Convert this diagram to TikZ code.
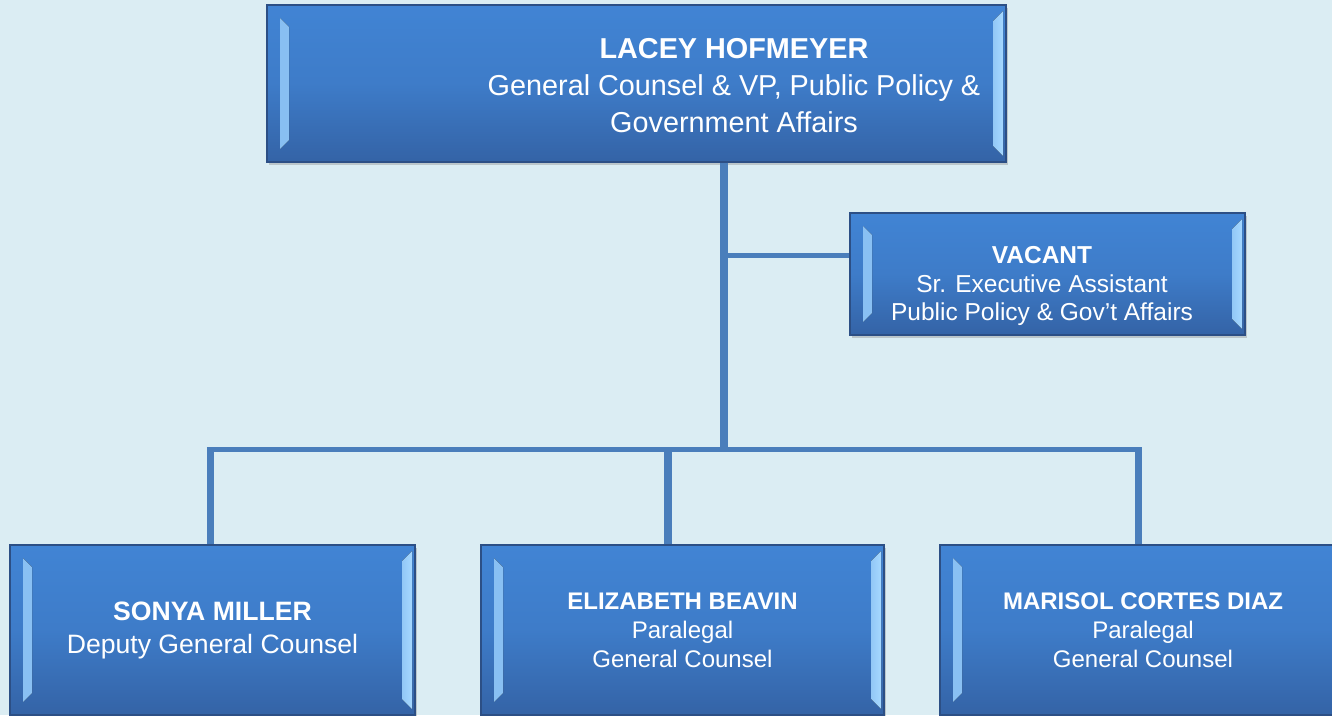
\documentclass[tikz,border=0pt]{standalone}
\usepackage{fontspec}
\setmainfont{Liberation Sans}
\usetikzlibrary{shadows,positioning}

\definecolor{bgblue}{HTML}{DBEDF3}
\definecolor{boxtop}{HTML}{4184D4}
\definecolor{boxbot}{HTML}{3463A6}
\definecolor{boxedge}{HTML}{2C4F85}
\definecolor{bevlite}{HTML}{A6D8FF}
\definecolor{linkblue}{HTML}{4A7EBB}

\tikzset{
  orgbox/.style={draw=boxedge, line width=1.2pt, inner sep=0pt,
    top color=boxtop, bottom color=boxbot, middle color=boxtop!75!boxbot,
    text=white, align=center,
    drop shadow={shadow xshift=2pt, shadow yshift=-3pt, opacity=0.35},
    path picture={
      \fill[left color=bevlite!70!boxtop, right color=bevlite]
        ([shift={(13pt,-13pt)}]path picture bounding box.north west) -- ++(9pt,-9pt)
        -- ([shift={(22pt,22pt)}]path picture bounding box.south west)
        -- ++(-9pt,-9pt) -- cycle;
      \fill[left color=bevlite!80!boxtop, right color=bevlite]
        ([shift={(-3pt,-6pt)}]path picture bounding box.north east) -- ++(-10pt,-10pt)
        -- ([shift={(-13pt,16pt)}]path picture bounding box.south east)
        -- ++(10pt,-10pt) -- cycle;
    }},
  leadtext/.style={text=white, align=center, font=\fontsize{28.8}{37}\selectfont},
  asttext/.style={text=white, align=center, font=\fontsize{24.5}{28.5}\selectfont},
  deptext/.style={font=\fontsize{26.6}{33}\selectfont},
  stafftext/.style={font=\fontsize{24}{29}\selectfont},
  link/.style={draw=linkblue, line width=5pt},
  drop/.style={draw=linkblue, line width=7.5pt}
}

\begin{document}
\begin{tikzpicture}[x=1pt,y=1pt]
  \useasboundingbox (0,0) rectangle (1332,-715);
  \clip (0,0) rectangle (1332,-715);
  \fill[bgblue] (0,0) rectangle (1332,-715);

  % boxes
  \node[orgbox, minimum width=739pt, minimum height=157pt] (lacey) at (636.5,-83.5) {};
  \node[leadtext] (laceytxt) at (734,-86)
    {\textbf{LACEY HOFMEYER}\\General Counsel \& VP, Public Policy \&\\Government Affairs};
  \node[orgbox, minimum width=395pt, minimum height=122pt] (vacant) at (1047.5,-274) {};
  \node[asttext] (vacanttxt) at (1042,-286)
    {\textbf{VACANT}\\Sr. Executive Assistant\\Public Policy \& Gov’t Affairs};
  \node[orgbox, deptext, minimum width=405pt, minimum height=170pt] (sonya) at (212.5,-630)
    {\textbf{SONYA MILLER}\\Deputy General Counsel};
  \node[orgbox, stafftext, minimum width=403pt, minimum height=170pt] (eliza) at (682.5,-630)
    {\textbf{ELIZABETH BEAVIN}\\Paralegal\\General Counsel};
  \node[orgbox, stafftext, minimum width=406pt, minimum height=170pt] (marisol) at (1143,-630)
    {\textbf{MARISOL CORTES DIAZ}\\Paralegal\\General Counsel};

  % connectors
  \coordinate (hub) at (724,-449.5);
  \coordinate (vacjoin) at (724,-255.5);
  \coordinate (sonyatap) at (210.5,-449.5);
  \coordinate (elizatap) at (668,-449.5);
  \coordinate (marisoltap) at (1138.5,-449.5);

  \draw[drop] (lacey.south -| hub) -- ([yshift=-2.5pt]hub);
  \draw[link] (vacjoin) -- (vacjoin -| vacant.west);
  \draw[link] ([xshift=-3.75pt]sonyatap) -- ([xshift=3.75pt]marisoltap);
  \draw[drop] ([yshift=2.5pt]sonyatap) -- (sonyatap |- sonya.north);
  \draw[drop] ([yshift=2.5pt]elizatap) -- (elizatap |- eliza.north);
  \draw[drop] ([yshift=2.5pt]marisoltap) -- (marisoltap |- marisol.north);
\end{tikzpicture}
\end{document}
